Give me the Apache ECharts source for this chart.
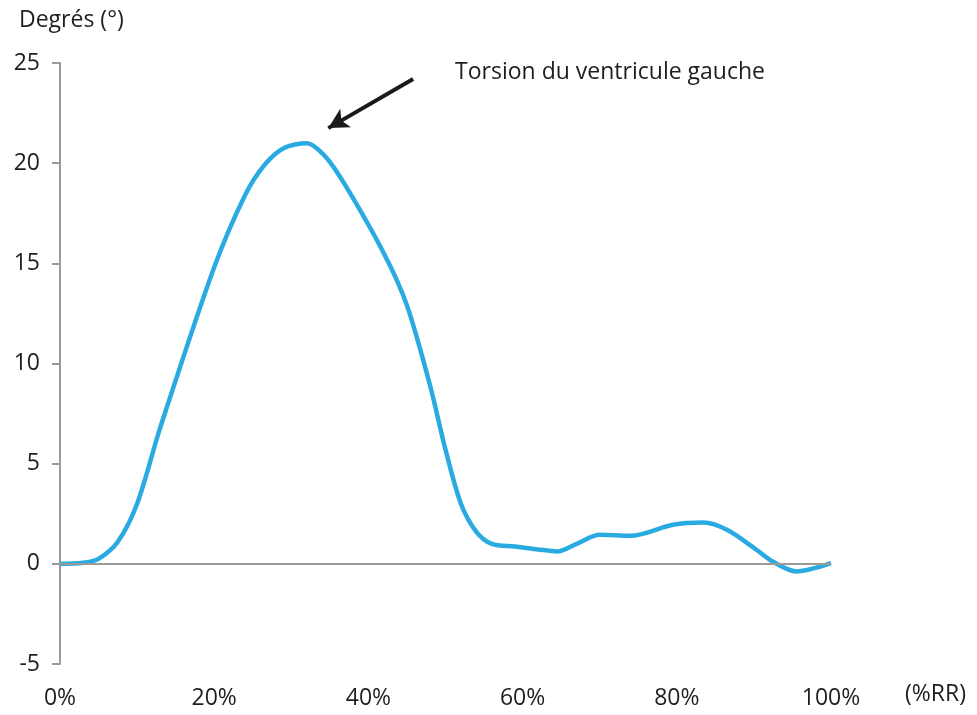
<!DOCTYPE html>
<html>
<head>
<meta charset="utf-8">
<script src="https://cdn.jsdelivr.net/npm/echarts@6/dist/echarts.min.js"></script>
<style>html,body{margin:0;padding:0;background:#fff}#c{width:977px;height:715px}</style>
</head>
<body>
<div id="c"></div>
<script>
// Data (x in %RR, y in degrees)
const xPercent = [0, 3, 5, 7.5, 10, 13, 20, 24, 26.5, 29, 32, 34.5, 37, 42, 45, 48, 50, 52, 54, 56, 59, 62, 64.5, 67, 70, 74, 79.5, 83.5, 86.5, 90, 92.5, 95.5, 100];
const torsion  = [0, 0.05, 0.25, 1.1, 3.0, 6.8, 14.8, 18.4, 19.9, 20.75, 21.0, 20.3, 18.9, 15.5, 12.9, 8.9, 5.7, 3.0, 1.6, 1.0, 0.86, 0.72, 0.62, 1.0, 1.45, 1.4, 1.95, 2.06, 1.7, 0.8, 0.1, -0.38, 0.03];
const xTicks = [0, 20, 40, 60, 80, 100];
const yTicks = [-5, 0, 5, 10, 15, 20, 25];
const xUnitLabel = '(%RR)';
const yUnitLabel = 'Degrés (°)';
const annotationText = 'Torsion du ventricule gauche';
const arrowTail = [45.8, 24.2];
const arrowHead = [34.8, 21.75];

const FONT = 'Open Sans';
const TXT = '#1e1e1e';
const chart = echarts.init(document.getElementById('c'), null, {renderer: 'canvas'});
chart.setOption({
  animation: false,
  textStyle: {fontFamily: FONT},
  grid: {left: 60, right: 146, top: 63, bottom: 51},
  xAxis: {
    type: 'value', min: xTicks[0], max: xTicks[xTicks.length - 1], interval: 20,
    axisLine: {show: false, onZero: false}, axisTick: {show: false}, splitLine: {show: false},
    axisLabel: {formatter: v => v + '%', fontSize: 23, color: TXT, margin: 23, fontFamily: FONT}
  },
  yAxis: {
    type: 'value', min: yTicks[0], max: yTicks[yTicks.length - 1], interval: 5,
    axisLine: {show: true, onZero: false, lineStyle: {color: '#9a9a9a', width: 2}},
    axisTick: {show: true, length: 8, lineStyle: {color: '#9a9a9a', width: 2}},
    splitLine: {show: false},
    axisLabel: {fontSize: 23, color: TXT, margin: 20, fontFamily: FONT}
  },
  series: [{
    type: 'line',
    data: xPercent.map((x, i) => [x, torsion[i]]),
    smooth: 0.3,
    showSymbol: false,
    lineStyle: {color: '#29ABE2', width: 4.5},
    z: 3,
    markLine: {
      silent: true,
      animation: false,
      label: {show: false},
      data: [
        [{coord: [0, 0], symbol: 'none', lineStyle: {color: '#9a9a9a', width: 2, type: 'solid'}},
         {coord: [100, 0], symbol: 'none'}],
        [{coord: arrowTail, symbol: 'none', lineStyle: {color: '#1a1a1a', width: 4, type: 'solid'}},
         {coord: arrowHead, symbol: 'arrow', symbolSize: [16, 20]}]
      ]
    }
  }]
});
const tailPx = chart.convertToPixel({gridIndex: 0}, arrowTail);
const originPx = chart.convertToPixel({gridIndex: 0}, [0, yTicks[yTicks.length - 1]]);
const endPx = chart.convertToPixel({gridIndex: 0}, [100, yTicks[0]]);
chart.setOption({
  graphic: [
    {type: 'text', left: tailPx[0] + 42, top: tailPx[1] - 18,
     style: {text: annotationText, fontSize: 23, fill: TXT, fontFamily: FONT}},
    {type: 'text', left: originPx[0] - 41, top: originPx[1] - 54,
     style: {text: yUnitLabel, fontSize: 23, fill: TXT, fontFamily: FONT}},
    {type: 'text', left: endPx[0] + 74, top: endPx[1] + 19,
     style: {text: xUnitLabel, fontSize: 23, fill: TXT, fontFamily: FONT}}
  ]
});
</script>
</body>
</html>
